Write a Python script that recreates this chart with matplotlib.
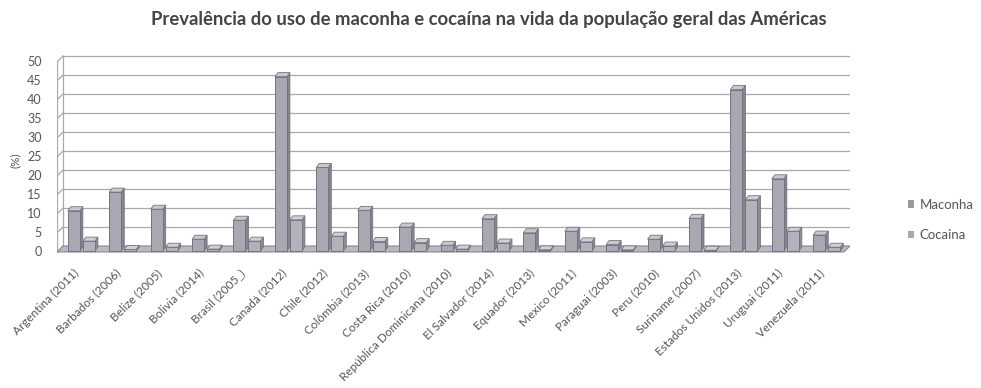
import numpy as np
import matplotlib
matplotlib.use("Agg")
import matplotlib.pyplot as plt
from matplotlib.patches import Polygon, Patch

paises = ["Argentina (2011)", "Barbados (2006)", "Belize (2005)", "Bolivia (2014)",
          "Brasil (2005_)", "Canadá (2012)", "Chile (2012)", "Colômbia (2013)",
          "Costa Rica (2010)", "República Dominicana (2010)", "El Salvador (2014)",
          "Equador (2013)", "Mexico (2011)", "Paraguai (2003)", "Peru (2010)",
          "Suriname (2007)", "Estados Unidos (2013)", "Uruguai (2011)", "Venezuela (2011)"]
maconha = [10.6, 15.5, 11.0, 3.1, 8.1, 45.9, 22.0, 10.7, 6.3, 1.5, 8.5, 4.8,
           5.2, 1.7, 3.1, 8.6, 42.5, 19.0, 4.2]
cocaina = [2.6, 0.4, 1.0, 0.5, 2.6, 8.2, 3.9, 2.5, 2.2, 0.5, 2.1, 0.3,
           2.4, 0.3, 1.3, 0.2, 13.5, 5.2, 1.0]
yticks = list(range(0, 55, 5))

plt.rcParams['font.family'] = ['Lato', 'DejaVu Sans']

fig = plt.figure(figsize=(9.81, 3.88), dpi=100)
W, H = 981, 388
# axes placed in pixels: front-left at x=57, back wall 0 line at y=246
ax = fig.add_axes([57 / W, 1 - 256 / H, 793 / W, 206 / H])
ax.set_xlim(-0.60, 18.55)
ax.set_ylim(-(256 - 246) / 3.8, 50 + 6 / 3.8)
ax.axis('off')

px_x = 41.4   # pixels per category
px_y = 3.8    # pixels per percent
ddx = 6 / px_x      # floor / wall depth
ddy = 6 / px_y
bdx = 3 / px_x      # bar depth
bdy = 4 / px_y
w = 12 / px_x
x0, x1 = -0.60, 18.55

grid_c = '#a8a8ae'
# back wall grid and side wall
for v in yticks:
    ax.plot([x0 + ddx, x1], [v, v], color=grid_c, lw=0.9, zorder=1)
    ax.plot([x0, x0 + ddx], [v - ddy, v], color=grid_c, lw=0.9, zorder=1)
ax.plot([x0, x0], [-ddy, 50 - ddy], color=grid_c, lw=0.9, zorder=1)
ax.plot([x0 + ddx, x0 + ddx], [0, 50], color=grid_c, lw=0.9, zorder=1)

# floor
floor = Polygon([(x0, -ddy), (x1 - ddx, -ddy), (x1, 0), (x0 + ddx, 0)],
                closed=True, facecolor='#b9b9c1', edgecolor='#8c8c94', lw=0.8, zorder=2)
ax.add_patch(floor)

x = np.arange(len(paises))
base = -ddy + 1 / px_y


def bars3d(xs, vals, front, side, top):
    ax.bar(xs, vals, width=w, bottom=base, align='edge', color=front,
           edgecolor='#74747e', linewidth=0.7, zorder=4)
    for xl, v in zip(xs, vals):
        xr = xl + w
        t = base + v
        ax.add_patch(Polygon([(xr, base), (xr + bdx, base + bdy), (xr + bdx, t + bdy), (xr, t)],
                             closed=True, facecolor=side, edgecolor='#74747e', lw=0.6, zorder=3))
        ax.add_patch(Polygon([(xl, t), (xr, t), (xr + bdx, t + bdy), (xl + bdx, t + bdy)],
                             closed=True, facecolor=top, edgecolor='#74747e', lw=0.6, zorder=5))


off = -14 / px_x
bars3d(x + off, maconha, '#a8a8b2', '#85858f', '#c8c8d0')
bars3d(x + off + w + bdx, cocaina, '#b2b2ba', '#8c8c96', '#d0d0d6')

# y tick labels sit on the front plane
for v in yticks:
    ax.text(x0 - 0.37, v - ddy, str(v), ha='right', va='center', fontsize=9,
            color='#555555', clip_on=False)
ax.text(x0 - 1.0, 22.5, '(%)', rotation=90, ha='center', va='center', fontsize=8.5,
        color='#555555', clip_on=False)

for xi, nome in zip(x, paises):
    ax.text(xi - 0.2, -5.6, nome, rotation=45, rotation_mode='anchor',
            ha='right', va='top', fontsize=8.5, color='#555555', clip_on=False)

fig.text(489 / W, 1 - 19 / H,
         'Prevalência do uso de maconha e cocaína na vida da população geral das Américas',
         ha='center', va='center', fontsize=13.3, fontweight='bold', color='#444444')

handles = [Patch(facecolor='#9a9aa6', edgecolor='none'),
           Patch(facecolor='#a8a8b2', edgecolor='none')]
fig.legend(handles, ['Maconha', 'Cocaina'], loc='center left',
           bbox_to_anchor=(896 / W, 1 - 220 / H), frameon=False, fontsize=9.5,
           handlelength=0.5, handleheight=0.5, handletextpad=0.4, labelspacing=1.4,
           labelcolor='#555555')

fig.savefig('out.png', dpi=100)
